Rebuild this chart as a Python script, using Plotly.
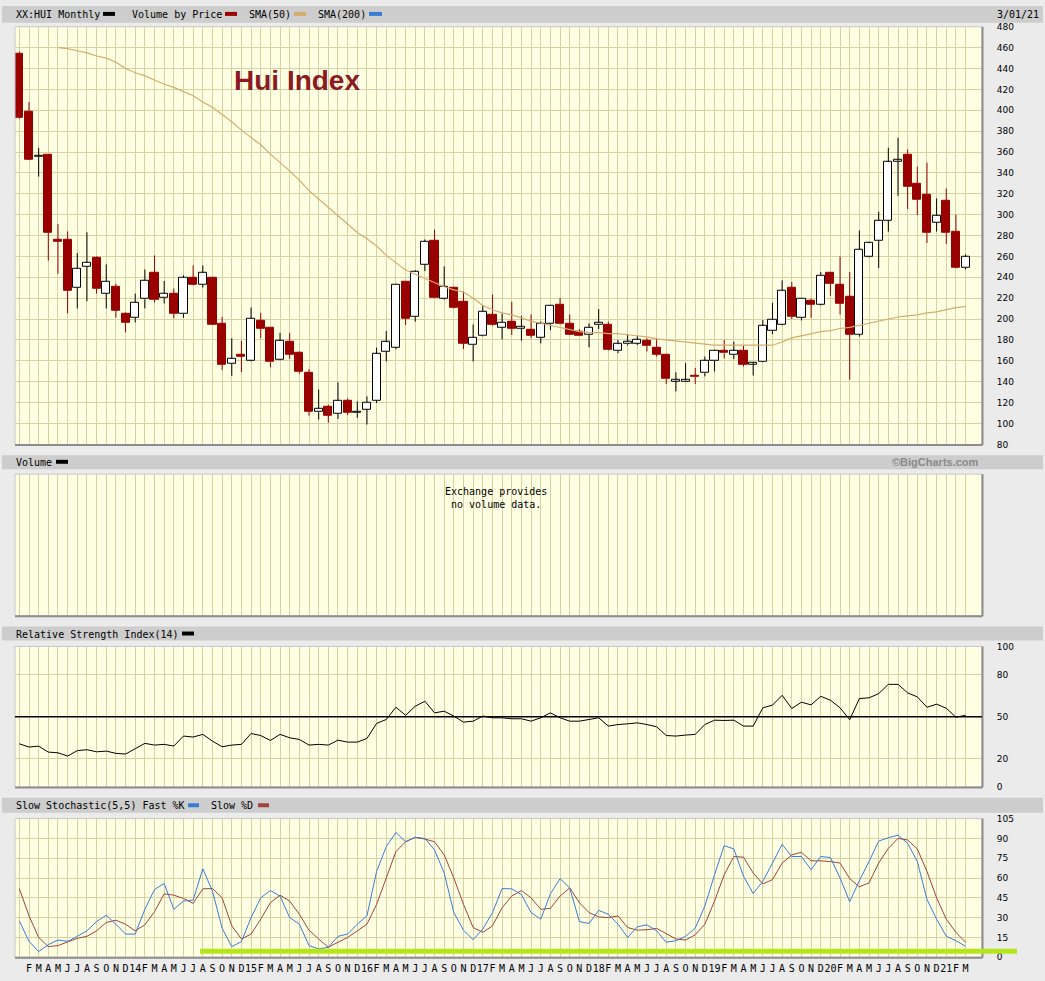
import plotly.graph_objects as go

W, H = 1045, 981

# ---------------- data (monthly, Jan 2013 .. Mar 2021) ----------------
OPEN = [454.6, 399, 355.8, 357, 275, 276, 230, 250.5, 258.4, 224.4,
        231.4, 204.8, 201.3, 219, 244.1, 220.3, 223.8, 204.8, 239.7, 233,
        239.7, 195.2, 157.1, 166, 160, 198.4, 192.1, 161, 178.4, 168,
        148.9, 110.8, 115.6, 109.5, 122.2, 110.6, 113.3, 121.9, 168.9, 173,
        235.6, 202.2, 252.4, 274.6, 219.7, 230.2, 216.5, 175.2, 183.8, 204.4,
        192.1, 197.5, 191.8, 189.5, 182.2, 195.2, 214, 195.2, 188, 184.8,
        194.3, 194.9, 169.5, 175.9, 176.8, 179.4, 172.1, 166.3, 140.7, 141.1,
        145.5, 148.3, 160, 169.5, 165.7, 169.5, 156.6, 159.4, 188.6, 194.3,
        230.2, 201.3, 217.1, 214, 244.1, 232.4, 221.3, 184.8, 259.4, 275.2,
        294.3, 351, 357.1, 329.8, 319, 292.7, 313.3, 283.2, 249.2]
HIGH = [456, 408, 364, 357.5, 291, 284, 263.2, 283.2, 260, 252.4,
        233.9, 206.3, 224.4, 247.6, 261, 236.5, 229.2, 241.9, 251.4, 251.4,
        240, 202.2, 181.6, 179.4, 211.1, 206, 192.5, 186.9, 186.9, 169,
        152, 132.4, 118, 139.4, 124, 121.3, 126, 172.7, 188.6, 233.5,
        236, 246.7, 276.2, 285.7, 250.5, 231, 226.7, 194.9, 213.3, 223.5,
        205.4, 216.5, 203.2, 204.4, 197.5, 213.3, 220.3, 204.4, 190.5, 195.9,
        209.5, 197.5, 180, 185.4, 183.8, 181.6, 181.6, 166.5, 149, 157.8,
        153.2, 164.1, 170.5, 180, 178.4, 174.6, 158.7, 199, 215.6, 237.1,
        235.6, 220, 219.7, 245.1, 245, 260, 245.1, 284.8, 273.7, 302.9,
        364.1, 373.7, 362.5, 346, 349.8, 315.6, 325.1, 300, 262]
LOW = [392, 352.4, 336.5, 256, 243.5, 205.4, 210.2, 217.1, 224.4, 210.2,
       201.3, 187.3, 196.8, 210.2, 215.9, 214.9, 200.6, 201.3, 232.4, 230.2,
       194.3, 151.4, 145.7, 149.2, 159.5, 181.6, 153.9, 160.5, 161.9, 147.6,
       107.6, 103.8, 100.8, 104.4, 108, 105.4, 99, 119.7, 159.4, 171.1,
       194.3, 197.5, 246, 220, 218.7, 210.2, 171.4, 159.4, 183.5, 193.7,
       180.6, 184.8, 179.4, 181.6, 176.8, 189.5, 195, 184.8, 184, 173,
       190.5, 170, 167.3, 174.6, 175.2, 169, 164.1, 137.8, 130.8, 140.5,
       137.8, 145.1, 149.8, 162.5, 161.6, 154.6, 146, 158.7, 185.7, 194,
       200, 198.7, 201.3, 213, 222.2, 204.4, 141.9, 183.2, 259, 248.9,
       283.8, 318.1, 305.4, 299.7, 273, 283.8, 272.1, 248.5, 247.6]
CLOSE = [392.7, 353, 356.2, 282.5, 274.3, 227.6, 248.3, 253.7, 229.2, 236.2,
         208.3, 196.8, 215.9, 237.1, 218.7, 224.4, 205.1, 239.7, 233, 244.4,
         194.9, 156.2, 161.9, 164.5, 200.6, 191.1, 158.7, 179, 166.3, 149.2,
         111.7, 114.3, 107.6, 121.9, 110.2, 111, 120.3, 166.7, 177.8, 233.3,
         200.6, 245.7, 274.3, 220.3, 230.8, 211.1, 176.8, 182.2, 207, 194.9,
         196.8, 191.1, 192.3, 184.1, 195.2, 212.7, 195.5, 185.4, 184.1, 192.1,
         196.5, 170.5, 175.9, 178.4, 180, 174.3, 165.7, 142.5, 141.1, 141.5,
         145, 160, 169.5, 167.3, 169.5, 156.2, 157, 193.3, 199, 227.6,
         202.2, 219.7, 214, 241.9, 234, 214.9, 185.4, 266.7, 272.7, 294.3,
         350.5, 351.6, 326.7, 314, 282.5, 299, 282.5, 248.9, 260]

SMA50_START = 4
SMA50 = [460, 459, 457, 455, 452, 450, 446, 440, 436, 433,
         429, 425, 422, 418, 414, 408, 403, 396, 389, 381,
         374, 367, 358, 350, 342, 333, 323, 315, 307, 299,
         291, 283, 277, 270, 261, 254, 247, 243, 239, 235,
         231, 228, 226, 220, 213, 209, 206, 204, 201, 198,
         196, 194, 192, 190, 188, 187, 187, 186, 186, 185,
         184, 183, 181, 180, 179, 178, 177, 176, 175, 175,
         175, 175, 175, 175, 175, 178, 182, 184, 186, 188,
         189, 191, 192, 194, 196, 198, 200, 202, 203, 204,
         206, 207, 209, 211, 212]

RSI14 = [30.7, 28.4, 29, 24.8, 24.3, 22, 25.8, 26.5, 25, 25.5,
         23.9, 23.4, 27.2, 31, 29.8, 30.3, 29.1, 36.2, 35.5, 37.4,
         32.6, 28.6, 29.8, 30.3, 38, 36.6, 33.1, 37.4, 35, 33.8,
         29.8, 30.3, 29.8, 33.3, 31.9, 31.9, 34.5, 45.2, 48, 56.7,
         51, 57.4, 61, 52.7, 53.9, 50.4, 46.1, 46.8, 50.4, 49.2,
         49.2, 48.5, 48.5, 46.8, 49.2, 52.7, 49.2, 46.8, 46.8, 48,
         49.2, 43.3, 44.4, 44.9, 45.6, 44.4, 42.8, 36.6, 36.2, 36.9,
         37.4, 44.4, 47.5, 47.3, 47.5, 43.3, 43.3, 56.3, 58.2, 65.2,
         55.8, 60.3, 58.4, 64.5, 61.7, 56.3, 47.8, 62.9, 63.4, 66.4,
         73, 73, 66.9, 64.1, 56.7, 58.9, 56, 49.6, 51]

STOCH_K = [27.5, 12, 4.3, 9.5, 13, 12, 15.8, 20, 27, 31.8,
           25, 17.5, 17.5, 36.3, 51.3, 55.8, 36.3, 42.5, 43.3, 67,
           50, 22, 8, 11.8, 30, 45, 50.5, 46.3, 30, 25,
           8.8, 6.3, 7.5, 15.8, 17.5, 25, 31.3, 65, 83.8, 94.5,
           87.5, 90.8, 90, 81.3, 63.8, 33.8, 20.5, 13.3, 21.3, 33.8,
           52, 51.8, 47.5, 33.8, 28.8, 48, 59.5, 52.5, 27, 25.5,
           35.5, 32.5, 25, 15, 23, 24.5, 20, 11.3, 12.5, 15.8,
           22, 38.8, 62.5, 84.5, 82, 61.3, 48.3, 57.5, 71.3, 85.5,
           76.3, 76.3, 66.3, 76.3, 75.5, 60, 42, 58, 72.5, 88,
           90.5, 92.5, 86.3, 72.5, 43.8, 28.8, 15.8, 12.5, 8.3]
STOCH_D = [52, 31.3, 15, 8, 8.8, 11.3, 14.3, 15.8, 20, 26.3,
           28, 25, 20, 24.5, 34.5, 48, 47, 44.5, 40.8, 51.8,
           52, 45, 23.8, 13.8, 17.5, 28.8, 41.3, 47, 42.5, 32.5,
           20.5, 13.8, 7.5, 11.3, 15, 20, 25, 40, 60, 80,
           87.5, 90.8, 89.5, 87.5, 77.5, 60, 40, 22.5, 18.8, 23.8,
           37.5, 46.3, 50.5, 45, 36.3, 37, 46.3, 52.5, 41.3, 33.8,
           30.5, 30, 31.3, 22.5, 20.5, 20.8, 21.8, 18, 13.8, 13,
           17, 25, 42.5, 62.5, 76.3, 75.8, 63.8, 55.5, 58.8, 71.3,
           77.5, 79.5, 73, 73, 72.5, 71.3, 59.5, 53.3, 56.3, 71.3,
           82.5, 90, 88.8, 82, 65, 45, 28.8, 18.8, 11.3]

MONTH_LETTERS = ["J", "F", "M", "A", "M", "J", "J", "A", "S", "O", "N", "D"]
FIRST_YEAR = 2013
PRICE_TICKS = list(range(80, 481, 20))
RSI_TICKS = [0, 20, 50, 80, 100]
STOCH_TICKS = list(range(0, 106, 15))

# ---------------- styling ----------------
PAPER = "#EBEBEB"
BAND = "#CDCDCD"
PLOTBG = "#FFFFE4"
GRID = "#D6D2A2"
RED = "#990000"
TAN = "#D4AC6C"
BLUE = "#3A7BD5"
MAROON = "#A0413C"
GREEN = "#B5E61D"
MONO = "DejaVu Sans Mono"


def fx(p):
    return p / W


def fy(p):
    return 1 - p / H


n = len(CLOSE)
idx = list(range(n))
labels = []
for i in idx:
    m = i % 12
    if m == 0:
        labels.append("" if i == 0 else "%02d" % ((FIRST_YEAR + i // 12) % 100))
    else:
        labels.append(MONTH_LETTERS[m])

# candle bodies
base, height, fills, outl = [], [], [], []
for o, c in zip(OPEN, CLOSE):
    lo, hi = min(o, c), max(o, c)
    if hi - lo < 1.8:
        mid = (hi + lo) / 2
        lo, hi = mid - 0.9, mid + 0.9
    base.append(lo)
    height.append(hi - lo)
    up = c >= o
    fills.append("white" if up else RED)
    outl.append("black" if up else RED)

# wicks
wk = {True: ([], []), False: ([], [])}
for i, (o, h, l, c) in enumerate(zip(OPEN, HIGH, LOW, CLOSE)):
    up = c >= o
    xs, ys = wk[up]
    xs += [i, i, None, i, i, None]
    ys += [h, max(o, c), None, min(o, c), l, None]

fig = go.Figure()
fig.add_trace(go.Bar(x=idx, y=height, base=base, width=0.84,
                     marker=dict(color=fills, line=dict(color=outl, width=1)),
                     xaxis="x", yaxis="y", hoverinfo="skip"))
fig.add_trace(go.Scatter(x=wk[True][0], y=wk[True][1], mode="lines",
                         line=dict(color="black", width=1), xaxis="x", yaxis="y", hoverinfo="skip"))
fig.add_trace(go.Scatter(x=wk[False][0], y=wk[False][1], mode="lines",
                         line=dict(color=RED, width=1), xaxis="x", yaxis="y", hoverinfo="skip"))
fig.add_trace(go.Scatter(x=list(range(SMA50_START, SMA50_START + len(SMA50))), y=SMA50,
                         mode="lines", line=dict(color=TAN, width=1.2), xaxis="x", yaxis="y"))
# empty volume panel (exchange provides no volume data)
fig.add_trace(go.Scatter(x=idx, y=[None] * n, mode="lines", xaxis="x2", yaxis="y2",
                         hoverinfo="skip"))
fig.add_trace(go.Scatter(x=idx, y=RSI14, mode="lines", line=dict(color="black", width=1),
                         xaxis="x3", yaxis="y3"))
fig.add_trace(go.Scatter(x=idx, y=STOCH_D, mode="lines", line=dict(color=MAROON, width=1),
                         xaxis="x4", yaxis="y4"))
fig.add_trace(go.Scatter(x=idx, y=STOCH_K, mode="lines", line=dict(color=BLUE, width=1),
                         xaxis="x4", yaxis="y4"))

XD = [fx(15), fx(982)]
XR = [-0.45, 99.7]
D_PRICE = [fy(444), fy(22)]
D_VOL = [fy(617), fy(474)]
D_RSI = [fy(790), fy(648)]
D_STO = [fy(962), fy(822)]

xcommon = dict(range=XR, domain=XD, tickvals=idx, showgrid=True, gridcolor=GRID, gridwidth=1,
               zeroline=False, showline=False, fixedrange=True)
ycommon = dict(side="right", showgrid=True, gridcolor=GRID, gridwidth=1, zeroline=False,
               showline=False, ticks="outside", ticklen=12, tickcolor="rgba(0,0,0,0)",
               tickfont=dict(family="DejaVu Sans", size=9, color="black"), fixedrange=True)

fig.update_layout(
    width=W, height=H, autosize=False,
    margin=dict(l=0, r=0, t=0, b=0),
    paper_bgcolor=PAPER, plot_bgcolor=PLOTBG,
    showlegend=False, bargap=0,
    xaxis=dict(xcommon, anchor="y", showticklabels=False),
    xaxis2=dict(xcommon, anchor="y2", showticklabels=False),
    xaxis3=dict(xcommon, anchor="y3", showticklabels=False),
    xaxis4=dict(xcommon, anchor="y4", showticklabels=True, ticktext=labels, tickangle=0,
                ticks="outside", ticklen=2, tickcolor="rgba(0,0,0,0)",
                tickfont=dict(family=MONO, size=10, color="black")),
    yaxis=dict(ycommon, domain=D_PRICE, range=[79.9, 480], tickvals=PRICE_TICKS, anchor="x"),
    yaxis2=dict(domain=D_VOL, range=[0, 1], showgrid=False, showticklabels=False,
                zeroline=False, anchor="x2", fixedrange=True),
    yaxis3=dict(ycommon, domain=D_RSI, range=[0, 100], tickvals=RSI_TICKS, anchor="x3"),
    yaxis4=dict(ycommon, domain=D_STO, range=[0, 105], tickvals=STOCH_TICKS, anchor="x4"),
)

shapes = []
# header bands
for y0, y1 in [(1, 18), (455, 469), (628, 642), (801, 816)]:
    shapes.append(dict(type="rect", xref="paper", yref="paper", x0=fx(2), x1=fx(1043),
                       y0=fy(y1), y1=fy(y0), fillcolor=BAND, line=dict(width=0), layer="below"))
# panel borders
for top, bot in [(22, 444), (474, 617), (648, 790), (822, 962)]:
    shapes.append(dict(type="rect", xref="paper", yref="paper", x0=fx(15), x1=fx(982),
                       y0=fy(bot), y1=fy(top), line=dict(color="#C8C8C8", width=1)))
    shapes.append(dict(type="line", xref="paper", yref="paper", x0=fx(15), x1=fx(982.5),
                       y0=fy(bot + 0.5), y1=fy(bot + 0.5), line=dict(color="#8C8C8C", width=2)))
    shapes.append(dict(type="line", xref="paper", yref="paper", x0=fx(982.5), x1=fx(982.5),
                       y0=fy(bot + 0.5), y1=fy(top), line=dict(color="#8C8C8C", width=2)))
# RSI 50 line
shapes.append(dict(type="line", xref="x3 domain", yref="y3", x0=0, x1=1, y0=50, y1=50,
                   line=dict(color="black", width=1.5)))
# legend swatches
for x0, x1, yc, col in [(103, 115, 9, "black"), (225, 237, 9, RED), (294, 306, 9, TAN),
                        (369, 382, 9, BLUE), (56, 68, 461.5, "black"), (182, 194, 635, "black"),
                        (188, 199, 808.5, BLUE), (258, 269, 808.5, MAROON)]:
    shapes.append(dict(type="rect", xref="paper", yref="paper", x0=fx(x0), x1=fx(x1),
                       y0=fy(yc + 2), y1=fy(yc - 2), fillcolor=col, line=dict(width=0)))
# green highlight line
shapes.append(dict(type="line", xref="paper", yref="paper", x0=fx(200), x1=fx(1017),
                   y0=fy(956), y1=fy(956), line=dict(color=GREEN, width=5)))
fig.update_layout(shapes=shapes)

ann = []


def txt(x, y, s, anchor="left", size=10, family=MONO, color="black"):
    ann.append(dict(x=fx(x), y=fy(y), xref="paper", yref="paper", text=s, showarrow=False,
                    xanchor=anchor, yanchor="middle", font=dict(family=family, size=size, color=color)))


txt(14, 9.5, "XX:HUI Monthly")
txt(130, 9.5, "Volume by Price")
txt(247, 9.5, "SMA(50)")
txt(316, 9.5, "SMA(200)")
txt(1041, 9.5, "3/01/21", anchor="right")
txt(14, 462, "Volume")
txt(981, 461.5, "<b>©BigCharts.com</b>", anchor="right", size=11, family="Liberation Sans", color="#8A8A8A")
txt(14, 635.5, "Relative Strength Index(14)")
txt(14, 808.5, "Slow Stochastic(5,5) Fast %K")
txt(209, 808.5, "Slow %D")
txt(496, 498.5, "Exchange provides<br>no volume data.", anchor="center")
txt(232, 76, "<b>Hui Index</b>", size=28, family="Liberation Sans", color="#8B1A22")
fig.update_layout(annotations=ann)

fig.write_html("out.html", config={"displayModeBar": False},
               post_script="document.body.style.margin='0';document.body.style.overflow='hidden';")
